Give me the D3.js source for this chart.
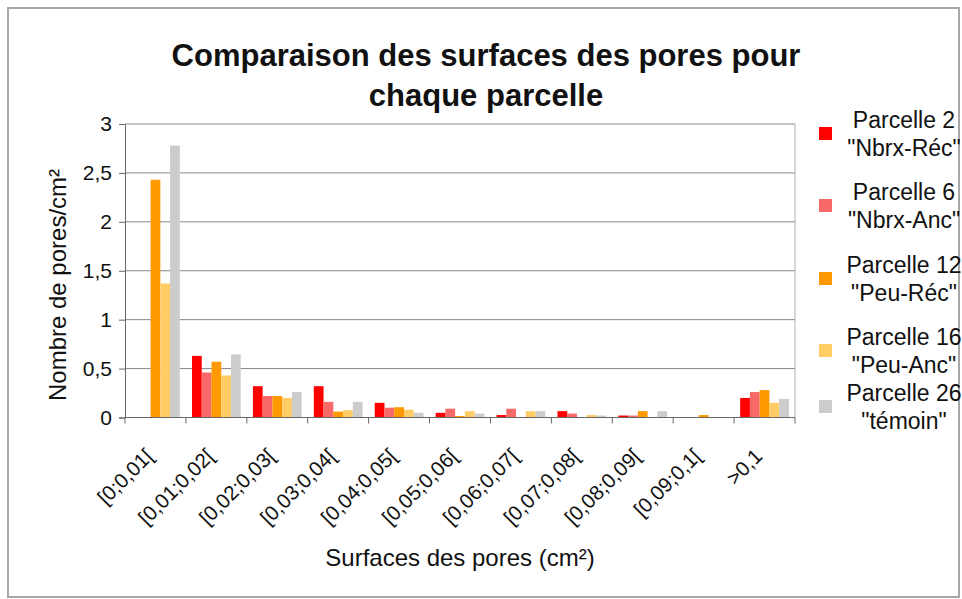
<!DOCTYPE html>
<html>
<head>
<meta charset="utf-8">
<script src="https://cdn.jsdelivr.net/npm/d3@7"></script>
<style>
  body { margin: 0; background: #fff; }
  svg { display: block; }
  text { font-family: Arial, "Liberation Sans", sans-serif; fill: #111; }
</style>
</head>
<body>
<svg id="chart" width="962" height="599"></svg>
<script>
// Pore-size classes (cm²)
const categories = [
  "[0;0,01[", "[0,01;0,02[", "[0,02;0,03[", "[0,03;0,04[", "[0,04;0,05[",
  "[0,05;0,06[", "[0,06;0,07[", "[0,07;0,08[", "[0,08;0,09[", "[0,09;0,1[", ">0,1"
];

// Number of pores per cm² for each plot
const parcelle2  = [0,    0.63, 0.32, 0.32, 0.15,  0.048, 0.025, 0.065, 0.02,  0,     0.20];
const parcelle6  = [0,    0.46, 0.22, 0.16, 0.10,  0.09,  0.09,  0.04,  0.02,  0,     0.26];
const parcelle12 = [2.43, 0.57, 0.22, 0.06, 0.105, 0.015, 0,     0,     0.065, 0.025, 0.28];
const parcelle16 = [1.37, 0.43, 0.20, 0.075,0.08,  0.065, 0.065, 0.025, 0,     0,     0.15];
const parcelle26 = [2.78, 0.645,0.26, 0.16, 0.048, 0.04,  0.065, 0.02,  0.065, 0,     0.19];

const seriesLabels = [
  ["Parcelle 2", "\"Nbrx-Réc\""],
  ["Parcelle 6", "\"Nbrx-Anc\""],
  ["Parcelle 12", "\"Peu-Réc\""],
  ["Parcelle 16", "\"Peu-Anc\""],
  ["Parcelle 26", "\"témoin\""]
];
const yTicks = [0, 0.5, 1, 1.5, 2, 2.5, 3];

const titleLines = ["Comparaison des surfaces des pores pour", "chaque parcelle"];
const xTitle = "Surfaces des pores (cm²)";
const yTitle = "Nombre de pores/cm²";

// Styling and layout
const seriesValues = [parcelle2, parcelle6, parcelle12, parcelle16, parcelle26];
const seriesColors = ["#ff0000", "#f86a6a", "#ff9900", "#ffcc66", "#cccccc"];
const plot = { left: 125, right: 795, top: 124, bottom: 417.5 };
const legendRowY = [134, 206, 279, 351, 407];

const svg = d3.select("#chart");

// Outer frame
svg.append("rect")
  .attr("x", 8).attr("y", 8).attr("width", 951).attr("height", 589)
  .attr("fill", "#fff").attr("stroke", "#a8a8a8").attr("stroke-width", 2);

const x0 = d3.scaleBand().domain(categories)
  .range([plot.left, plot.right]).paddingInner(0.2).paddingOuter(0.1);
const x1 = d3.scaleBand().domain(d3.range(seriesValues.length))
  .range([0, x0.bandwidth()]);
const y = d3.scaleLinear().domain([0, 3]).range([plot.bottom, plot.top]);

// Horizontal gridlines
svg.append("g").selectAll("line")
  .data(yTicks.filter(t => t > 0))
  .join("line")
  .attr("x1", plot.left).attr("x2", plot.right)
  .attr("y1", d => y(d)).attr("y2", d => y(d))
  .attr("stroke", "#878787").attr("stroke-width", 1);

// Right edge of plot area
svg.append("line")
  .attr("x1", plot.right).attr("x2", plot.right)
  .attr("y1", plot.top).attr("y2", plot.bottom)
  .attr("stroke", "#b0b0b0").attr("stroke-width", 1);

// Bars
const groups = svg.append("g").selectAll("g")
  .data(categories)
  .join("g")
  .attr("transform", d => `translate(${x0(d)},0)`);

groups.selectAll("rect")
  .data((d, i) => seriesValues.map((vals, s) => ({ s, v: vals[i] })))
  .join("rect")
  .attr("x", d => x1(d.s))
  .attr("width", x1.bandwidth())
  .attr("y", d => y(d.v))
  .attr("height", d => y(0) - y(d.v))
  .attr("fill", d => seriesColors[d.s]);

// Y axis
const yAxis = d3.axisLeft(y)
  .tickValues(yTicks)
  .tickFormat(d => String(d).replace(".", ","))
  .tickSize(6).tickPadding(7);
const gy = svg.append("g").attr("transform", `translate(${plot.left},0)`).call(yAxis);
gy.select(".domain").attr("stroke", "#666");
gy.selectAll(".tick line").attr("stroke", "#666");
gy.selectAll(".tick text").attr("font-size", 21).attr("fill", "#111")
  .style("font-family", "Arial, 'Liberation Sans', sans-serif");

// X axis: baseline, boundary ticks, rotated labels
const step = x0.step();
svg.append("line")
  .attr("x1", plot.left).attr("x2", plot.right)
  .attr("y1", plot.bottom).attr("y2", plot.bottom)
  .attr("stroke", "#666");
svg.append("g").selectAll("line")
  .data(d3.range(categories.length + 1))
  .join("line")
  .attr("x1", i => plot.left + i * step).attr("x2", i => plot.left + i * step)
  .attr("y1", plot.bottom).attr("y2", plot.bottom + 6)
  .attr("stroke", "#666");

svg.append("g").selectAll("text")
  .data(categories)
  .join("text")
  .attr("transform", d => `translate(${x0(d) + x0.bandwidth() / 2 - 1},${plot.bottom + 40}) rotate(-45)`)
  .attr("text-anchor", "end")
  .attr("font-size", 20.5)
  .text(d => d);

// Title
svg.append("g").selectAll("text")
  .data(titleLines)
  .join("text")
  .attr("x", 486).attr("y", (d, i) => 66 + i * 40)
  .attr("text-anchor", "middle")
  .attr("font-size", 31).attr("font-weight", "bold")
  .text(d => d);

// Axis titles
svg.append("text")
  .attr("x", 460).attr("y", 566)
  .attr("text-anchor", "middle").attr("font-size", 24)
  .text(xTitle);
svg.append("text")
  .attr("transform", `translate(66,285) rotate(-90)`)
  .attr("text-anchor", "middle").attr("font-size", 24)
  .text(yTitle);

// Legend
const legend = svg.append("g").selectAll("g")
  .data(seriesLabels)
  .join("g")
  .attr("transform", (d, i) => `translate(0,${legendRowY[i]})`);
legend.append("rect")
  .attr("x", 819).attr("y", -7).attr("width", 13).attr("height", 13)
  .attr("fill", (d, i) => seriesColors[i]);
legend.append("text")
  .attr("x", 904).attr("text-anchor", "middle").attr("font-size", 23)
  .selectAll("tspan")
  .data(d => d)
  .join("tspan")
  .attr("x", 904)
  .attr("y", (d, j) => j === 0 ? -6 : 22)
  .text(d => d);
</script>
</body>
</html>
